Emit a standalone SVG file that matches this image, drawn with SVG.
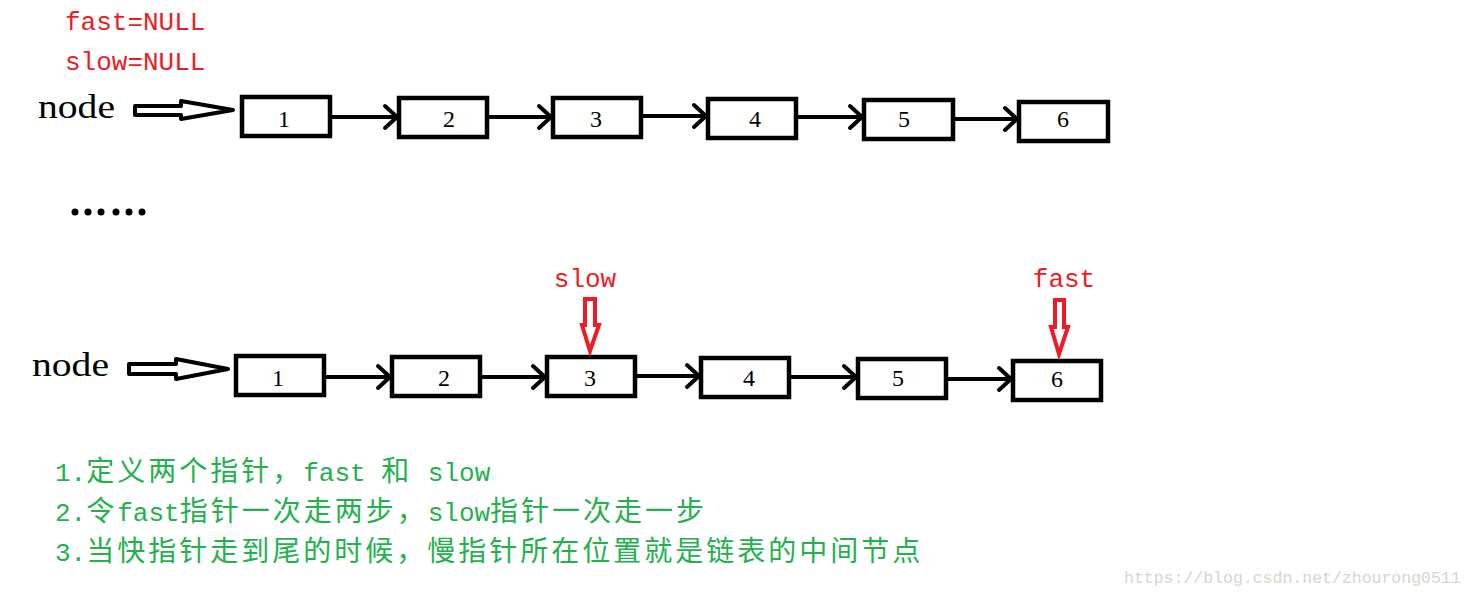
<svg xmlns="http://www.w3.org/2000/svg" width="1474" height="597" viewBox="0 0 1474 597">
<style>
.box{fill:#fff;stroke:#000;stroke-width:4.5}
.num{font-family:"Liberation Serif","Times New Roman",serif;font-size:24px;fill:#000;text-anchor:middle}
.con{stroke:#000;stroke-width:4;fill:none}
.red{font-family:"Liberation Mono","Courier New",monospace;font-size:26px;fill:#ed1c24}
.node{font-family:"Liberation Serif","Times New Roman",serif;font-size:33px;fill:#000}
.big{fill:#fff;stroke:#000;stroke-width:4;stroke-linejoin:round}
.rarr{fill:#fff;stroke:#ed1c24;stroke-width:4;stroke-linejoin:miter}
.grn{font-family:"Liberation Mono","Noto Sans CJK SC",monospace;fill:#22b14c}
.lat{font-size:26px;letter-spacing:0}
.cjk{font-size:28px;letter-spacing:3px;font-family:"Noto Sans CJK SC",sans-serif}
.wm{font-family:"Liberation Mono","Courier New",monospace;font-size:16.5px;fill:#d6d6cc}
</style>
<defs>
<marker id="ah" viewBox="0 0 18 28" refX="15" refY="14" markerWidth="18" markerHeight="28" markerUnits="userSpaceOnUse" orient="auto">
<path d="M3,3 L15,14 L3,25" fill="none" stroke="#000" stroke-width="4" stroke-linecap="round"/>
</marker>
</defs>

<text class="red" x="65" y="30">fast=NULL</text>
<text class="red" x="65" y="70">slow=NULL</text>

<g id="node-label-top">
<text class="node" x="38" y="118" textLength="77" lengthAdjust="spacingAndGlyphs">node</text>
<path class="big" d="M135,106 L181,106 L181,101 L233,110 L181,119 L181,115 L135,115 Z"/>
</g>
<g id="node-label-bottom">
<text class="node" x="32" y="376" textLength="77" lengthAdjust="spacingAndGlyphs">node</text>
<path class="big" d="M129,364 L176,364 L176,359 L228,369 L176,379 L176,374 L129,374 Z"/>
</g>

<g id="t1"><rect class="box" x="242" y="97" width="88" height="39"/><text class="num" x="284" y="127">1</text></g>
<g id="t2"><rect class="box" x="399" y="98" width="88" height="39"/><text class="num" x="449" y="127">2</text></g>
<g id="t3"><rect class="box" x="553" y="98" width="88" height="39"/><text class="num" x="596" y="127">3</text></g>
<g id="t4"><rect class="box" x="708" y="99" width="88" height="39"/><text class="num" x="755" y="127">4</text></g>
<g id="t5"><rect class="box" x="864" y="100" width="89" height="39"/><text class="num" x="904" y="127">5</text></g>
<g id="t6"><rect class="box" x="1019" y="102" width="89" height="39"/><text class="num" x="1063" y="127">6</text></g>

<g id="b1"><rect class="box" x="236" y="356" width="88" height="39"/><text class="num" x="278" y="386">1</text></g>
<g id="b2"><rect class="box" x="392" y="357" width="88" height="39"/><text class="num" x="444" y="386">2</text></g>
<g id="b3"><rect class="box" x="547" y="357" width="88" height="39"/><text class="num" x="590" y="386">3</text></g>
<g id="b4"><rect class="box" x="701" y="358" width="88" height="39"/><text class="num" x="749" y="386">4</text></g>
<g id="b5"><rect class="box" x="858" y="359" width="88" height="39"/><text class="num" x="898" y="386">5</text></g>
<g id="b6"><rect class="box" x="1013" y="361" width="88" height="39"/><text class="num" x="1057" y="387">6</text></g>

<g id="connectors">
<line class="con" x1="332" y1="117" x2="397" y2="117" marker-end="url(#ah)"/>
<line class="con" x1="489" y1="117" x2="551" y2="117" marker-end="url(#ah)"/>
<line class="con" x1="643" y1="116" x2="706" y2="116" marker-end="url(#ah)"/>
<line class="con" x1="798" y1="117" x2="862" y2="117" marker-end="url(#ah)"/>
<line class="con" x1="955" y1="119" x2="1017" y2="119" marker-end="url(#ah)"/>
<line class="con" x1="326" y1="377" x2="390" y2="377" marker-end="url(#ah)"/>
<line class="con" x1="482" y1="377" x2="545" y2="377" marker-end="url(#ah)"/>
<line class="con" x1="637" y1="376" x2="699" y2="376" marker-end="url(#ah)"/>
<line class="con" x1="791" y1="377" x2="856" y2="377" marker-end="url(#ah)"/>
<line class="con" x1="948" y1="379" x2="1011" y2="379" marker-end="url(#ah)"/>
</g>

<g id="dots" fill="#000">
<circle cx="75" cy="212" r="3.5"/><circle cx="88" cy="212" r="3.5"/><circle cx="101" cy="212" r="3.5"/>
<circle cx="116" cy="212" r="3.5"/><circle cx="129" cy="212" r="3.5"/><circle cx="142" cy="212" r="3.5"/>
</g>

<g id="slow-pointer">
<text class="red" x="585" y="287" text-anchor="middle">slow</text>
<path class="rarr" d="M585,299 L595,299 L595,325 L599,325 L590,351 L582,325 L585,325 Z"/>
</g>
<g id="fast-pointer">
<text class="red" x="1064" y="287" text-anchor="middle">fast</text>
<path class="rarr" d="M1055,300 L1064,300 L1064,327 L1068,327 L1059,354 L1051,327 L1055,327 Z"/>
</g>

<text class="grn" x="55" y="481"><tspan class="lat">1.</tspan><tspan class="cjk">定义两个指针，</tspan><tspan class="lat">fast </tspan><tspan class="cjk">和</tspan><tspan class="lat"> slow</tspan></text>
<text class="grn" x="55" y="521"><tspan class="lat">2.</tspan><tspan class="cjk">令</tspan><tspan class="lat">fast</tspan><tspan class="cjk">指针一次走两步，</tspan><tspan class="lat">slow</tspan><tspan class="cjk">指针一次走一步</tspan></text>
<text class="grn" x="55" y="561"><tspan class="lat">3.</tspan><tspan class="cjk">当快指针走到尾的时候，慢指针所在位置就是链表的中间节点</tspan></text>

<text class="wm" x="1124" y="583">https://blog.csdn.net/zhourong0511</text>
</svg>
